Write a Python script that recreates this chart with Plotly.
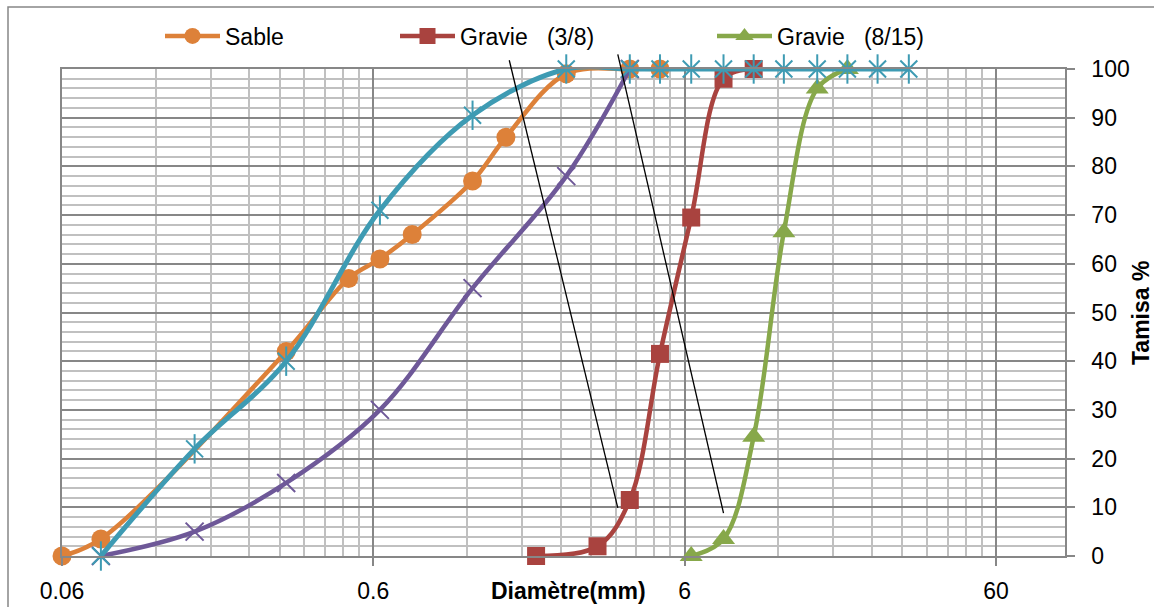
import math
import plotly.graph_objects as go

# ---------------- data ----------------
sable_x = [0.06, 0.08, 0.315, 0.5, 0.63, 0.8, 1.25, 1.6, 2.5, 4, 5]
sable_y = [0, 3.5, 42, 57, 61, 66, 77, 86, 99, 100, 100]

g38_x = [2, 3.15, 4, 5, 6.3, 8, 10]
g38_y = [0, 2, 11.5, 41.5, 69.5, 98, 100]

g815_x = [6.3, 8, 10, 12.5, 16, 20]
g815_y = [0, 3.5, 24.5, 66.5, 96, 100]

teal_x = [0.08, 0.16, 0.315, 0.63, 1.25, 2.5, 4, 5, 6.3, 8, 10, 12.5, 16, 20, 25, 31.5]
teal_y = [0, 22, 40, 71, 90.5, 100, 100, 100, 100, 100, 100, 100, 100, 100, 100, 100]

purple_x = [0.08, 0.16, 0.315, 0.63, 1.25, 2.5, 4]
purple_y = [0, 5, 15, 30, 55, 78, 100]

lineA_x = [1.64, 3.66]
lineA_y = [101.8, 9.9]
lineB_x = [3.66, 8.0]
lineB_y = [103, 8.8]

x_tickvals = [0.06, 0.6, 6, 60]
x_ticktext = ["0.06", "0.6", "6", "60"]
y_tickvals = list(range(0, 101, 10))

legend_names = ["Sable", "Gravie\u00a0\u00a0\u00a0(3/8)", "Gravie\u00a0\u00a0\u00a0(8/15)"]

# ---------------- styling ----------------
FONT = "Liberation Sans, Arial, sans-serif"
FS = 23
ORANGE = "#DD8139"
RED = "#A9433F"
GREEN = "#87A84A"
PURPLE = "#6E5898"
TEAL = "#3E9BB3"
MAJOR = "#878787"
MINOR = "#C0C0C0"

X_MIN, X_MAX = 0.06, 100
xrange_log = [math.log10(X_MIN), math.log10(X_MAX)]

minor_x = [X_MIN * 10 ** d * k for d in range(0, 4) for k in range(2, 10)]
minor_x = [v for v in minor_x if v < X_MAX]

W, H = 1154, 607
ML, MR, MT, MB = 62, 89, 40, 51
PW, PH = W - ML - MR, H - MT - MB
ydom_top = (556 - 69) / PH


def px(xpix):
    return (xpix - ML) / PW


def py(ypix):
    return (556 - ypix) / PH


fig = go.Figure()

common = dict(mode="lines+markers", line_shape="spline", cliponaxis=False)

fig.add_trace(go.Scatter(
    x=sable_x, y=sable_y, name=legend_names[0], legend="legend",
    line=dict(color=ORANGE, width=4.5, smoothing=1),
    marker=dict(symbol="circle", size=19, color=ORANGE), **common))

fig.add_trace(go.Scatter(
    x=g38_x, y=g38_y, name=legend_names[1], legend="legend2",
    line=dict(color=RED, width=4.5, smoothing=1),
    marker=dict(symbol="square", size=18, color=RED), **common))

fig.add_trace(go.Scatter(
    x=g815_x, y=g815_y, name=legend_names[2], legend="legend3",
    line=dict(color=GREEN, width=4.5, smoothing=1),
    marker=dict(symbol="triangle-up", size=20, color=GREEN), **common))

fig.add_trace(go.Scatter(
    x=purple_x, y=purple_y, showlegend=False,
    line=dict(color=PURPLE, width=4.5, smoothing=1),
    marker=dict(symbol="x-thin-open", size=18, color=PURPLE,
                line=dict(color=PURPLE, width=2)), **common))

fig.add_trace(go.Scatter(
    x=teal_x, y=teal_y, showlegend=False,
    line=dict(color=TEAL, width=5, smoothing=1),
    marker=dict(symbol="x-thin-open", size=17, color=TEAL,
                line=dict(color=TEAL, width=2)), **common))

fig.add_trace(go.Scatter(
    x=teal_x, y=teal_y, showlegend=False, mode="markers", cliponaxis=False,
    marker=dict(symbol="line-ns-open", size=21, color=TEAL,
                line=dict(color=TEAL, width=2))))

for lx, ly in ((lineA_x, lineA_y), (lineB_x, lineB_y)):
    fig.add_trace(go.Scatter(
        x=lx, y=ly, mode="lines", showlegend=False,
        xaxis="x2", yaxis="y2",
        line=dict(color="black", width=1.3)))

axis_font = dict(family=FONT, size=FS, color="black")
leg_common = dict(xanchor="left", yanchor="middle", orientation="h",
                  itemwidth=55, font=axis_font, bgcolor="rgba(0,0,0,0)")

fig.update_layout(
    width=W, height=H,
    margin=dict(l=ML, r=MR, t=MT, b=MB, pad=0, autoexpand=False),
    paper_bgcolor="white", plot_bgcolor="rgba(0,0,0,0)",
    font=axis_font,
    xaxis=dict(
        type="log", range=xrange_log, domain=[0, 1], anchor="y",
        automargin=False,
        tickmode="array", tickvals=x_tickvals, ticktext=x_ticktext,
        ticks="outside", ticklen=8, tickwidth=1.5, tickcolor=MAJOR,
        ticklabelstandoff=6,
        showgrid=True, gridcolor=MAJOR, gridwidth=1.5,
        showline=True, linecolor=MAJOR, linewidth=1.5, mirror=True,
        zeroline=False, tickfont=axis_font,
        minor=dict(tickmode="array", tickvals=minor_x, showgrid=True,
                   gridcolor=MINOR, gridwidth=1.5, ticks=""),
    ),
    yaxis=dict(
        range=[0, 100], domain=[0, ydom_top], anchor="x", side="right",
        automargin=False,
        tickmode="array", tickvals=y_tickvals,
        ticks="outside", ticklen=8, tickwidth=1.5, tickcolor=MAJOR,
        ticklabelstandoff=12,
        showgrid=True, gridcolor=MAJOR, gridwidth=1.5,
        showline=True, linecolor=MAJOR, linewidth=1.5, mirror=True,
        zeroline=False, tickfont=axis_font,
        minor=dict(dtick=2, tick0=0, showgrid=True, gridcolor=MINOR,
                   gridwidth=1.5, ticks=""),
    ),
    xaxis2=dict(type="log", matches="x", domain=[0, 1], anchor="y2",
                visible=False, showgrid=False, automargin=False),
    yaxis2=dict(range=[0, 100 / ydom_top], domain=[0, 1], anchor="x2",
                visible=False, showgrid=False, automargin=False),
    legend=dict(x=px(160), y=py(36), **leg_common),
    legend2=dict(x=px(395), y=py(36), **leg_common),
    legend3=dict(x=px(712), y=py(36), **leg_common),
    annotations=[
        dict(text="<b>Diamètre(mm)</b>", xref="paper", yref="paper",
             x=px(568), y=py(591), xanchor="center", yanchor="middle",
             showarrow=False, font=axis_font),
        dict(text="<b>Tamisa %</b>", xref="paper", yref="paper",
             x=px(1141), y=py(313), xanchor="center", yanchor="middle",
             showarrow=False, textangle=-90, font=axis_font),
    ],
    shapes=[
        dict(type="rect", xref="paper", yref="paper",
             x0=px(8), x1=px(1170), y0=py(620), y1=py(7),
             line=dict(color=MAJOR, width=1.5), fillcolor="rgba(0,0,0,0)",
             layer="below"),
    ],
)

fig.write_html("out.html", config={"displayModeBar": False},
               post_script="document.body.style.margin='0';")
